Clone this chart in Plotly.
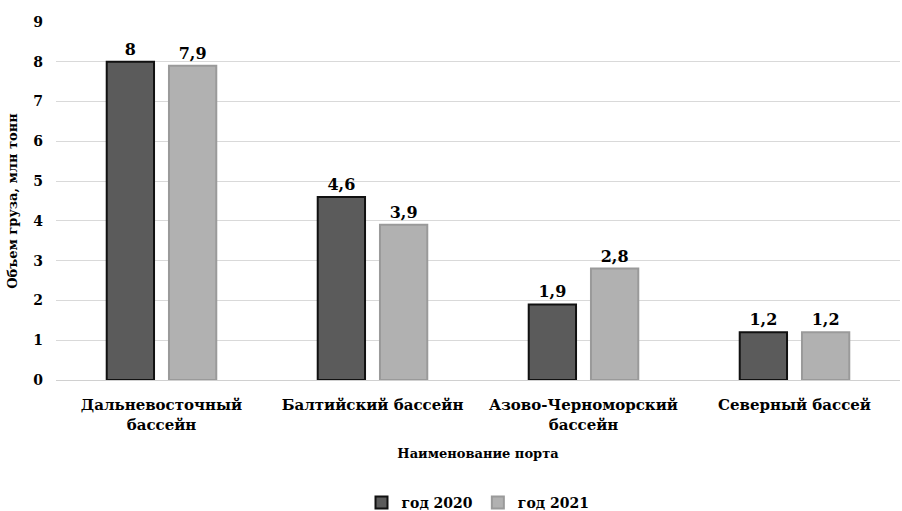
import plotly.graph_objects as go

categories = ["Дальневосточный<br>бассейн", "Балтийский бассейн", "Азово-Черноморский<br>бассейн", "Северный бассей"]
series_names = ["год 2020", "год 2021"]
values_2020 = [8, 4.6, 1.9, 1.2]
values_2021 = [7.9, 3.9, 2.8, 1.2]
y_ticks = [0, 1, 2, 3, 4, 5, 6, 7, 8, 9]

def fmt(v):
    return ("%g" % v).replace(".", ",")

FONT = "DejaVu Serif"

fig = go.Figure()
fig.add_trace(go.Bar(
    x=categories, y=values_2020, name=series_names[0],
    marker=dict(color="#5b5b5b", line=dict(color="#111111", width=2)),
    text=[fmt(v) for v in values_2020], textposition="outside",
    textfont=dict(family=FONT, size=16, color="black", weight="bold"), cliponaxis=False,
))
fig.add_trace(go.Bar(
    x=categories, y=values_2021, name=series_names[1],
    marker=dict(color="#b1b1b1", line=dict(color="#9a9a9a", width=2)),
    text=[fmt(v) for v in values_2021], textposition="outside",
    textfont=dict(family=FONT, size=16, color="black", weight="bold"), cliponaxis=False,
))

fig.update_layout(
    width=902, height=511,
    margin=dict(l=56, r=2, t=22, b=131),
    paper_bgcolor="white", plot_bgcolor="white",
    barmode="group", bargap=0.41, bargroupgap=0.24,
    font=dict(family=FONT, color="black", size=14, weight="bold"),
    showlegend=True,
    legend=dict(orientation="h", x=0.5, xanchor="center", yref="container", y=0.016, yanchor="middle",
                font=dict(family=FONT, size=14, color="black", weight="bold"), itemwidth=30,
                traceorder="normal"),
    xaxis=dict(
        tickfont=dict(family=FONT, size=15, color="black", weight="bold"),
        title=dict(text="Наименование порта", font=dict(family=FONT, size=13, color="black", weight="bold"), standoff=16),
        showline=True, linecolor="#d0d0d0", linewidth=1, ticks="", ticklabelstandoff=11,
        automargin=False,
    ),
    yaxis=dict(
        range=[0, 9], tickvals=y_ticks,
        tickfont=dict(family=FONT, size=14, color="black", weight="bold"),
        showgrid=True, gridcolor="#d9d9d9", gridwidth=1, zeroline=False,
        title=dict(text="Объем груза, млн тонн", font=dict(family=FONT, size=13, color="black", weight="bold"), standoff=12),
        ticks="", ticklabelstandoff=12, automargin=False,
    ),
)

fig.write_html("out.html")
